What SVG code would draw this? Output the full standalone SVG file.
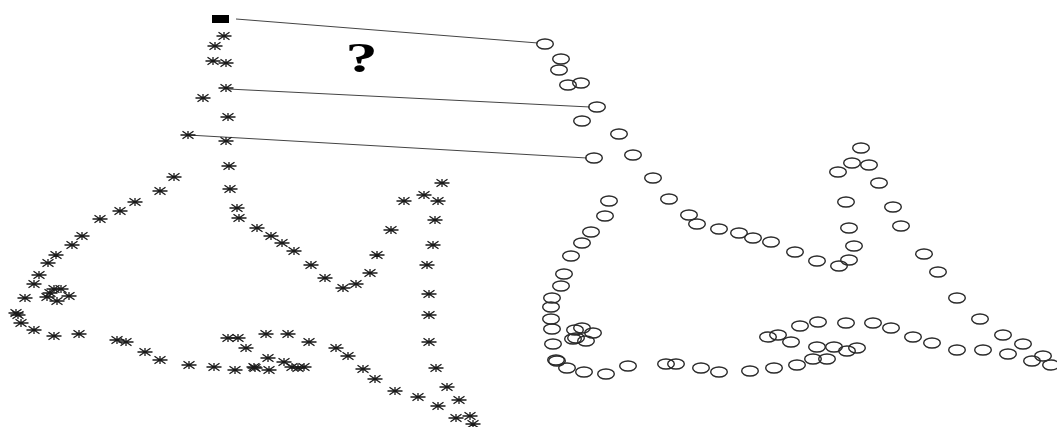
<svg xmlns="http://www.w3.org/2000/svg" width="1057" height="427" viewBox="0 0 1057 427">
<style>
.ast{stroke:#1a1a1a;stroke-width:1.3;fill:none}
.cir{stroke:#2a2a2a;stroke-width:1.4;fill:none}
.ln{stroke:#444;stroke-width:1;fill:none}
</style>
<defs>
<path id="a" class="ast" d="M-7.5,0H7.5M0,-4V4M-5.5,-3.8L5.5,3.8M-5.5,3.8L5.5,-3.8"/>
<ellipse id="c" class="cir" cx="0" cy="0" rx="8.3" ry="5"/>
</defs>
<rect width="1057" height="427" fill="#fff"/>
<g id="connectors">
<line class="ln" x1="236" y1="19" x2="538" y2="43"/>
<line class="ln" x1="228" y1="89" x2="590" y2="107"/>
<line class="ln" x1="188" y1="135" x2="587" y2="158"/>
</g>
<g id="marker-square"><rect x="212" y="15" width="17" height="8" fill="#000"/></g>
<text id="question" transform="translate(361.5,72) scale(1.5,1)" font-family="Liberation Serif, serif" font-weight="bold" font-size="43" text-anchor="middle" fill="#000">?</text>
<g id="asterisks">
<use href="#a" x="224" y="36"/><use href="#a" x="215" y="46"/><use href="#a" x="213" y="61"/><use href="#a" x="226" y="63"/>
<use href="#a" x="226" y="88"/><use href="#a" x="203" y="98"/><use href="#a" x="228" y="117"/><use href="#a" x="188" y="135"/>
<use href="#a" x="226" y="141"/><use href="#a" x="229" y="166"/><use href="#a" x="174" y="177"/><use href="#a" x="230" y="189"/>
<use href="#a" x="160" y="191"/><use href="#a" x="135" y="202"/><use href="#a" x="237" y="208"/><use href="#a" x="120" y="211"/>
<use href="#a" x="239" y="218"/><use href="#a" x="100" y="219"/><use href="#a" x="82" y="236"/><use href="#a" x="72" y="245"/>
<use href="#a" x="56" y="255"/><use href="#a" x="48" y="263"/><use href="#a" x="39" y="275"/><use href="#a" x="34" y="284"/>
<use href="#a" x="25" y="298"/><use href="#a" x="54" y="289"/><use href="#a" x="61" y="289"/><use href="#a" x="47" y="297"/>
<use href="#a" x="69" y="296"/><use href="#a" x="57" y="301"/><use href="#a" x="50" y="293"/>
<use href="#a" x="16" y="313"/><use href="#a" x="18" y="315"/><use href="#a" x="21" y="323"/><use href="#a" x="34" y="330"/>
<use href="#a" x="54" y="336"/><use href="#a" x="79" y="334"/><use href="#a" x="117" y="340"/><use href="#a" x="126" y="342"/>
<use href="#a" x="145" y="352"/><use href="#a" x="160" y="360"/><use href="#a" x="189" y="365"/><use href="#a" x="214" y="367"/>
<use href="#a" x="235" y="370"/><use href="#a" x="254" y="367"/><use href="#a" x="228" y="338"/><use href="#a" x="238" y="338"/>
<use href="#a" x="246" y="348"/><use href="#a" x="257" y="228"/><use href="#a" x="271" y="236"/><use href="#a" x="282" y="243"/>
<use href="#a" x="294" y="251"/><use href="#a" x="311" y="265"/><use href="#a" x="325" y="278"/><use href="#a" x="343" y="288"/>
<use href="#a" x="356" y="284"/><use href="#a" x="370" y="273"/><use href="#a" x="377" y="255"/><use href="#a" x="391" y="230"/>
<use href="#a" x="404" y="201"/><use href="#a" x="424" y="195"/><use href="#a" x="442" y="183"/><use href="#a" x="438" y="201"/>
<use href="#a" x="435" y="220"/><use href="#a" x="433" y="245"/><use href="#a" x="427" y="265"/><use href="#a" x="429" y="294"/>
<use href="#a" x="429" y="315"/><use href="#a" x="429" y="342"/><use href="#a" x="436" y="368"/><use href="#a" x="447" y="387"/>
<use href="#a" x="459" y="400"/><use href="#a" x="438" y="406"/><use href="#a" x="456" y="418"/><use href="#a" x="470" y="416"/>
<use href="#a" x="473" y="424"/><use href="#a" x="266" y="334"/><use href="#a" x="288" y="334"/><use href="#a" x="309" y="342"/>
<use href="#a" x="336" y="348"/><use href="#a" x="348" y="356"/><use href="#a" x="363" y="369"/><use href="#a" x="375" y="379"/>
<use href="#a" x="395" y="391"/><use href="#a" x="418" y="397"/><use href="#a" x="268" y="358"/><use href="#a" x="284" y="362"/>
<use href="#a" x="292" y="367"/><use href="#a" x="304" y="367"/><use href="#a" x="255" y="368"/><use href="#a" x="269" y="370"/>
<use href="#a" x="298" y="368"/>
</g>
<g id="circles">
<use href="#c" x="545" y="44"/><use href="#c" x="561" y="59"/><use href="#c" x="559" y="70"/><use href="#c" x="568" y="85"/>
<use href="#c" x="581" y="83"/><use href="#c" x="597" y="107"/><use href="#c" x="582" y="121"/><use href="#c" x="619" y="134"/>
<use href="#c" x="594" y="158"/><use href="#c" x="633" y="155"/><use href="#c" x="653" y="178"/><use href="#c" x="669" y="199"/>
<use href="#c" x="609" y="201"/><use href="#c" x="605" y="216"/><use href="#c" x="689" y="215"/><use href="#c" x="697" y="224"/>
<use href="#c" x="719" y="229"/><use href="#c" x="739" y="233"/><use href="#c" x="753" y="238"/><use href="#c" x="771" y="242"/>
<use href="#c" x="795" y="252"/><use href="#c" x="817" y="261"/><use href="#c" x="839" y="266"/><use href="#c" x="849" y="260"/>
<use href="#c" x="854" y="246"/><use href="#c" x="849" y="228"/><use href="#c" x="846" y="202"/><use href="#c" x="838" y="172"/>
<use href="#c" x="852" y="163"/><use href="#c" x="861" y="148"/><use href="#c" x="869" y="165"/><use href="#c" x="879" y="183"/>
<use href="#c" x="893" y="207"/><use href="#c" x="901" y="226"/><use href="#c" x="924" y="254"/><use href="#c" x="938" y="272"/>
<use href="#c" x="957" y="298"/><use href="#c" x="980" y="319"/><use href="#c" x="1003" y="335"/><use href="#c" x="1023" y="344"/>
<use href="#c" x="1043" y="356"/><use href="#c" x="1051" y="365"/><use href="#c" x="1032" y="361"/><use href="#c" x="1008" y="354"/>
<use href="#c" x="983" y="350"/><use href="#c" x="957" y="350"/><use href="#c" x="932" y="343"/><use href="#c" x="913" y="337"/>
<use href="#c" x="891" y="328"/><use href="#c" x="873" y="323"/><use href="#c" x="846" y="323"/><use href="#c" x="818" y="322"/>
<use href="#c" x="800" y="326"/><use href="#c" x="768" y="337"/><use href="#c" x="778" y="335"/><use href="#c" x="791" y="342"/>
<use href="#c" x="817" y="347"/><use href="#c" x="834" y="347"/><use href="#c" x="847" y="351"/><use href="#c" x="857" y="348"/>
<use href="#c" x="813" y="359"/><use href="#c" x="827" y="359"/><use href="#c" x="797" y="365"/><use href="#c" x="774" y="368"/>
<use href="#c" x="750" y="371"/><use href="#c" x="719" y="372"/><use href="#c" x="701" y="368"/>
<use href="#c" x="591" y="232"/><use href="#c" x="582" y="243"/><use href="#c" x="571" y="256"/><use href="#c" x="564" y="274"/>
<use href="#c" x="561" y="286"/><use href="#c" x="552" y="298"/><use href="#c" x="551" y="307"/><use href="#c" x="551" y="319"/>
<use href="#c" x="552" y="329"/><use href="#c" x="575" y="330"/><use href="#c" x="582" y="328"/><use href="#c" x="593" y="333"/>
<use href="#c" x="573" y="339"/><use href="#c" x="576" y="338"/><use href="#c" x="586" y="341"/><use href="#c" x="553" y="344"/>
<use href="#c" x="556" y="360"/><use href="#c" x="557" y="361"/><use href="#c" x="567" y="368"/><use href="#c" x="584" y="372"/>
<use href="#c" x="606" y="374"/><use href="#c" x="628" y="366"/><use href="#c" x="666" y="364"/><use href="#c" x="676" y="364"/>
</g>
</svg>
